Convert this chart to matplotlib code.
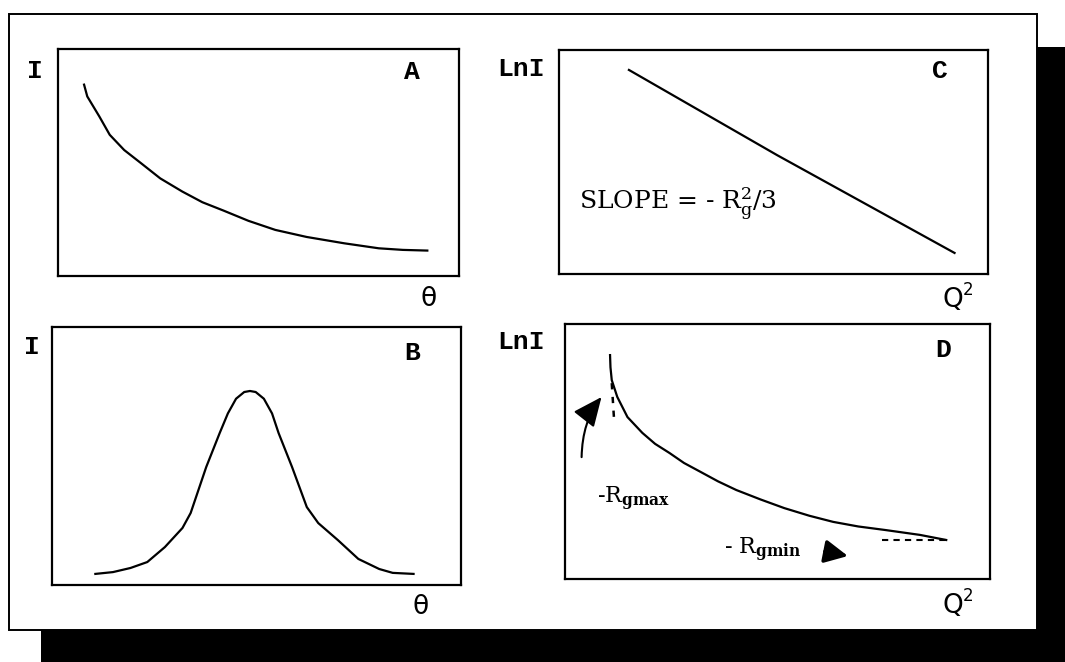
import matplotlib.pyplot as plt
from matplotlib.patches import Rectangle

W, H = 1065, 662

plt.rcParams['mathtext.fontset'] = 'dejavuserif'

# A: intensity falling off with angle
theta_a = [0.65, 0.73, 1.03, 1.29, 1.65, 2.07, 2.55, 3.10, 3.60, 4.13, 4.75,
           5.42, 6.20, 7.14, 8.00, 8.60, 9.21]
int_a = [8.43, 7.91, 7.03, 6.22, 5.55, 4.97, 4.30, 3.72, 3.25, 2.88, 2.43,
         2.03, 1.72, 1.44, 1.22, 1.15, 1.12]

# B: diffraction peak
theta_b = [1.06, 1.49, 1.92, 2.33, 2.76, 3.19, 3.39, 3.77, 4.10, 4.30, 4.50,
           4.70, 4.84, 4.98, 5.18, 5.38, 5.54, 5.87, 6.23, 6.51, 6.99, 7.49,
           8.00, 8.33, 8.84]
int_b = [0.43, 0.50, 0.66, 0.89, 1.47, 2.21, 2.79, 4.57, 5.89, 6.65, 7.22,
         7.48, 7.52, 7.48, 7.22, 6.65, 5.89, 4.57, 3.02, 2.40, 1.74, 1.01,
         0.62, 0.47, 0.43]

# C: Guinier straight line
q2_c = [1.63, 5.09, 9.22]
lnI_c = [9.11, 5.30, 0.94]

# D: polydisperse Guinier curve
q2_d = [1.06, 1.07, 1.10, 1.23, 1.47, 1.82, 2.12, 2.46, 2.80, 3.19, 3.60,
        4.03, 4.60, 5.16, 5.75, 6.31, 6.90, 7.54, 8.35, 8.97]
lnI_d = [8.78, 8.30, 7.80, 7.14, 6.35, 5.73, 5.30, 4.94, 4.55, 4.20, 3.83,
         3.49, 3.12, 2.78, 2.48, 2.24, 2.06, 1.92, 1.73, 1.53]

# limiting slopes drawn dashed at both ends of D
tan_max_x = [1.10, 1.16]
tan_max_y = [7.68, 6.11]
tan_min_x = [7.45, 8.96]
tan_min_y = [1.54, 1.54]


def box(l, t, r, b):
    return [l / W, 1 - b / H, (r - l) / W, (b - t) / H]


def label(x, y, s, **kw):
    kw.setdefault('family', 'Liberation Mono')
    kw.setdefault('fontweight', 'bold')
    kw.setdefault('fontsize', 19)
    fig.text(x / W, 1 - y / H, s, va='center', ha='left', **kw)


def q2_label(x, y):
    label(x, y, 'Q', family='DejaVu Sans', fontweight='normal', fontsize=19)
    label(x + 21, y - 10, '2', family='DejaVu Sans', fontweight='normal', fontsize=12)


fig = plt.figure(figsize=(W / 100, H / 100), dpi=100)

# drop shadow and outer frame
bg = fig.add_axes([0, 0, 1, 1])
bg.set_xlim(0, W)
bg.set_ylim(H, 0)
bg.axis('off')
bg.add_patch(Rectangle((41, 47), W - 41, H - 47, facecolor='black', edgecolor='none'))
bg.add_patch(Rectangle((9, 14), 1037 - 9, 630 - 14, facecolor='white',
                       edgecolor='black', lw=1.4))

panels = {
    'A': box(58, 49, 459, 276),
    'C': box(559, 50, 988, 274),
    'B': box(52, 327, 461, 585),
    'D': box(565, 324, 990, 579),
}
axes = {}
for key, rect in panels.items():
    ax = fig.add_axes(rect)
    ax.set_xlim(0, 10)
    ax.set_ylim(0, 10)
    ax.set_xticks([])
    ax.set_yticks([])
    for sp in ax.spines.values():
        sp.set_linewidth(1.6)
    axes[key] = ax

line_kw = dict(color='black', lw=1.6, solid_joinstyle='round')
axes['A'].plot(theta_a, int_a, **line_kw)
axes['B'].plot(theta_b, int_b, **line_kw)
axes['C'].plot(q2_c, lnI_c, **line_kw)
axes['D'].plot(q2_d, lnI_d, **line_kw)
axes['D'].plot(tan_max_x, tan_max_y, color='black', lw=1.8, ls=(0, (2.5, 3)))
axes['D'].plot(tan_min_x, tan_min_y, color='black', lw=1.5, ls=(0, (3, 2.5)))

axD = axes['D']
axD.annotate('', xy=(0.90, 7.22), xytext=(0.39, 4.67),
             arrowprops=dict(arrowstyle='-|>,head_length=0.9,head_width=0.4',
                             connectionstyle='angle3,angleA=90,angleB=50',
                             color='black', lw=1.5, mutation_scale=20))
axD.annotate('', xy=(6.72, 0.88), xytext=(6.05, 1.10),
             arrowprops=dict(arrowstyle='-|>,head_length=0.7,head_width=0.35',
                             color='black', lw=2.5, mutation_scale=20))
axD.text(0.075, 0.315, r'-$\mathrm{R}_{\mathbf{gmax}}$', transform=axD.transAxes,
         va='center', ha='left', family='DejaVu Serif', fontsize=16)
axD.text(0.375, 0.115, r'- $\mathrm{R}_{\mathbf{gmin}}$', transform=axD.transAxes,
         va='center', ha='left', family='DejaVu Serif', fontsize=16)

# axis names and panel letters
label(27, 71, 'I')
label(404, 72, 'A')
label(497, 69, 'LnI')
label(932, 71, 'C')
label(24, 347, 'I')
label(404, 353, 'B')
label(497, 342, 'LnI')
label(935, 350, 'D')
label(421, 299, 'θ', family='DejaVu Sans', fontweight='normal')
label(413, 607, 'θ', family='DejaVu Sans', fontweight='normal')
q2_label(942, 300)
q2_label(942, 606)

fig.text(579 / W, 1 - 204 / H, r'SLOPE = - $\mathrm{R}_\mathrm{g}^2$/3', va='center',
         ha='left', family='DejaVu Serif', fontsize=18)

fig.savefig('out.png', dpi=100)
